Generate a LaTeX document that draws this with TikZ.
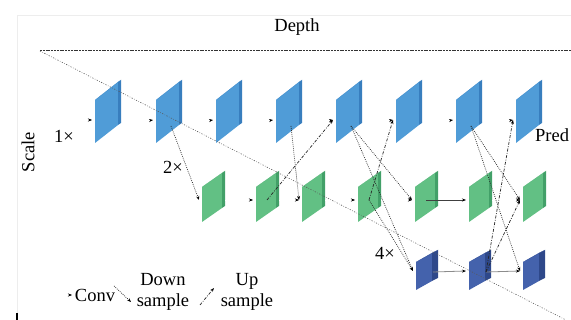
\documentclass[tikz,border=0pt]{standalone}
\usepackage{fontspec}
\setmainfont{Liberation Serif}
\usepackage{xcolor}
\usetikzlibrary{arrows.meta}

\definecolor{blueface}{RGB}{80,156,215}
\definecolor{blueside}{RGB}{56,126,190}
\definecolor{bluetop}{RGB}{66,140,204}
\definecolor{greenface}{RGB}{98,192,132}
\definecolor{greenside}{RGB}{66,160,104}
\definecolor{greentop}{RGB}{80,176,116}
\definecolor{navyface}{RGB}{68,98,172}
\definecolor{navyside}{RGB}{46,72,138}
\definecolor{navytop}{RGB}{58,86,156}

\begin{document}
\begin{tikzpicture}[x=1pt, y=-1pt,
  font=\fontsize{18.5}{21}\selectfont,
  tip/.style={-{Stealth[black,length=4pt,width=3pt]}},
  conv/.style={tip, draw=white, line width=0.4pt, shorten <=12pt},
  convline/.style={tip, draw=black!75, line width=0.8pt},
  down/.style={tip, draw=black!85, line width=0.7pt, dash pattern=on 0.8pt off 1.2pt},
  up/.style={tip, draw=black!85, line width=0.7pt, dash pattern=on 3pt off 1.5pt on 0.8pt off 1.5pt}]
  \path[use as bounding box, fill=white] (0,0) rectangle (571,320);

  % frame and depth axis
  \draw[black!7] (17,320) -- (17,15) -- (571,15);
  \draw[line width=1.5pt] (17,313) -- (17,320);
  \draw[black!80, line width=0.8pt, dash pattern=on 2pt off 0.8pt] (40,50) -- (571,50);

  % scale 1x
  \foreach \x [count=\i] in {95,156,216,276,336,396,456,516} {
    \fill[blueface] (\x,143) -- (\x,100) -- (\x+23,82) -- (\x+23,125) -- cycle;
    \fill[blueside] (\x+23,125) -- (\x+23,82) -- (\x+26,80) -- (\x+26,123) -- cycle;
    \fill[bluetop] (\x,100) -- (\x+3,98) -- (\x+26,80) -- (\x+23,82) -- cycle;
    \coordinate (b\i) at (\x+15,126);
    \coordinate (b\i-in) at (\x-3,120);
  }
  % scale 2x
  \foreach \x [count=\i] in {202,256,302,358,415,469,523} {
    \fill[greenface] (\x,222) -- (\x,187) -- (\x+20,173) -- (\x+20,208) -- cycle;
    \fill[greenside] (\x+20,208) -- (\x+20,173) -- (\x+23,171) -- (\x+23,206) -- cycle;
    \fill[greentop] (\x,187) -- (\x+3,185) -- (\x+23,171) -- (\x+20,173) -- cycle;
    \coordinate (g\i) at (\x+11,200);
    \coordinate (g\i-in) at (\x-3,200);
  }
  % scale 4x
  \foreach \x [count=\i] in {416,469,523} {
    \fill[navyface] (\x,290) -- (\x,262) -- (\x+16,253) -- (\x+16,281) -- cycle;
    \fill[navyside] (\x+16,281) -- (\x+16,253) -- (\x+22,250) -- (\x+22,278) -- cycle;
    \fill[navytop] (\x,262) -- (\x+6,259) -- (\x+22,250) -- (\x+16,253) -- cycle;
    \coordinate (d\i) at (\x+17,272);
    \coordinate (d\i-in) at (\x-3,271);
  }

  % conv
  \coordinate (b0) at (68,120);
  \draw[conv] (b0) -- (b1-in);
  \foreach \j [count=\i from 2] in {1,...,7}
    \draw[conv] (b\j) -- (b\i-in);
  \foreach \j [count=\i from 2] in {1,...,4}
    \draw[conv] (g\j) -- (g\i-in);
  \draw[convline] (g5) -- (g6-in);
  \draw[conv] (g6) -- (g7-in);
  \draw[convline, draw=black!45] (d1) -- (d2-in);
  \draw[convline, draw=black!45] (d2) -- (d3-in);

  % down sample
  \draw[down] (b2) -- (g1-in);
  \draw[down] (b4) -- (g3-in);
  \draw[down] (b5) -- (g5-in);
  \draw[down] (b5) -- (d1-in);
  \draw[down] (g4) -- (d1-in);
  \draw[down] (b7) -- (g7-in);
  \draw[down] (b7) -- (d3-in);

  % up sample
  \draw[up] (g2) -- (b5-in);
  \draw[up] (g4) -- (b6-in);
  \draw[up] (d2) -- (b8-in);
  \draw[up] (d2) -- (g7-in);

  % scale diagonal
  \draw[black!65, line width=0.6pt, dash pattern=on 1.2pt off 1.6pt on 0.5pt off 1.6pt] (40,51) -- (566,320);

  % labels
  \node (depth) at (297,27) {Depth};
  \node[rotate=90] (scale) at (28,152) {Scale};
  \node (one) at (64,136) {1×};
  \node (two) at (173,167) {2×};
  \node (four) at (385,253) {4×};
  \node[anchor=west, inner sep=0pt] (pred) at (535,135) {Pred};

  % legend
  \coordinate (cv0) at (60,295);
  \coordinate (cv1) at (72,295);
  \draw[conv, shorten <=8pt] (cv0) -- (cv1);
  \node (convlab) at (95,295) {Conv};
  \coordinate (dn0) at (114,286);
  \coordinate (dn1) at (131,302);
  \draw[down] (dn0) -- (dn1);
  \node[align=center] (downlab) at (163,292) {Down\\sample};
  \coordinate (up0) at (200,305);
  \coordinate (up1) at (214,288);
  \draw[up] (up0) -- (up1);
  \node[align=center] (uplab) at (247,292) {Up\\sample};
\end{tikzpicture}
\end{document}
